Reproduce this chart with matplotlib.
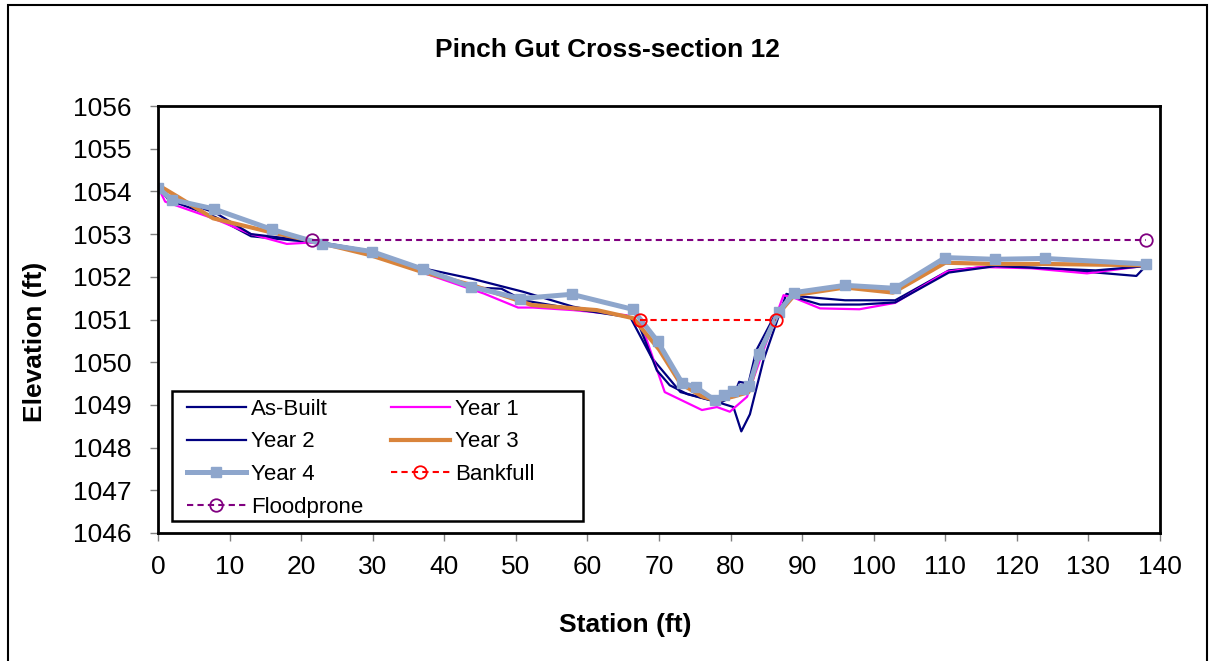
import matplotlib
matplotlib.use("Agg")
import matplotlib.pyplot as plt
from matplotlib.patches import Rectangle

plt.rcParams['font.family'] = ['Liberation Sans', 'DejaVu Sans']

# Survey data: station (ft) and elevation (ft)
asbuilt_x = [0, 1.5, 8, 13, 19, 23, 30, 37, 44, 51, 58, 66, 69, 73, 77.5, 80.4, 81.5, 82.7, 84.6, 87.8,
             89, 96, 103, 110.5, 117, 124, 136.7, 138]
asbuilt_y = [1054.1, 1053.8, 1053.4, 1052.95, 1052.85, 1052.8, 1052.55, 1052.2, 1051.95, 1051.65, 1051.3,
             1051.05, 1050.1, 1049.3, 1049.1, 1048.95, 1048.38, 1048.78, 1050.05, 1051.6,
             1051.55, 1051.45, 1051.45, 1052.15, 1052.25, 1052.2, 1052.02, 1052.25]

year1_x = [0, 1, 8, 13, 18, 21, 23, 30, 38, 45.5, 50.3, 52.4, 58, 65.5, 67.5, 70.8, 76, 78.1, 79.9,
           82.3, 84.1, 87.4, 89, 92.5, 98, 103, 110.2, 114.9, 122, 129.8, 133.4, 138]
year1_y = [1054.1, 1053.76, 1053.35, 1053.0, 1052.77, 1052.8, 1052.78, 1052.5, 1052.04, 1051.61,
           1051.28, 1051.28, 1051.22, 1051.1, 1050.9, 1049.3, 1048.88, 1048.95, 1048.84,
           1049.19, 1050.05, 1051.57, 1051.5, 1051.26, 1051.24, 1051.39, 1052.12, 1052.23,
           1052.2, 1052.08, 1052.16, 1052.26]

year2_x = [0, 2, 8, 13, 19, 23, 30, 37, 44, 48, 51, 58, 66, 67.3, 69.7, 71.5, 74, 78.5, 80.4, 81.2,
           82.5, 83.6, 86.5, 88.5, 92.5, 98, 103, 110.5, 117, 124, 131, 138]
year2_y = [1054.05, 1053.85, 1053.5, 1053.0, 1052.88, 1052.8, 1052.6, 1052.15, 1051.75, 1051.72,
           1051.45, 1051.25, 1051.05, 1050.83, 1049.81, 1049.46, 1049.25, 1049.05, 1049.2,
           1049.54, 1049.5, 1050.28, 1051.2, 1051.55, 1051.35, 1051.35, 1051.4, 1052.1,
           1052.25, 1052.2, 1052.15, 1052.25]

year3_x = [0, 2.8, 7.7, 15.6, 21.5, 29.6, 36.8, 44, 52.2, 61.3, 66.4, 70, 73, 76, 78, 80.5, 82.5,
           84, 86.5, 88.9, 96, 102.7, 110, 117, 124, 138]
year3_y = [1054.15, 1053.87, 1053.37, 1053.05, 1052.84, 1052.51, 1052.12, 1051.8, 1051.34,
           1051.22, 1051.03, 1050.3, 1049.5, 1049.2, 1049.1, 1049.2, 1049.3, 1050.2, 1051.1,
           1051.57, 1051.75, 1051.63, 1052.33, 1052.3, 1052.3, 1052.27]

year4_x = [0, 1.9, 7.8, 15.9, 22.9, 29.9, 37.0, 43.7, 50.6, 57.8, 66.3, 69.8, 73.2, 75.2, 77.8,
           79.1, 80.4, 81.8, 82.6, 84.0, 86.7, 88.9, 96.0, 103.0, 110.0, 116.9, 123.9, 138.0]
year4_y = [1054.08, 1053.81, 1053.59, 1053.11, 1052.77, 1052.59, 1052.18, 1051.77, 1051.49,
           1051.59, 1051.24, 1050.49, 1049.52, 1049.41, 1049.11, 1049.23, 1049.32, 1049.38,
           1049.44, 1050.20, 1051.18, 1051.63, 1051.80, 1051.73, 1052.45, 1052.41, 1052.43,
           1052.30]

bankfull_x = [67.4, 86.3]
bankfull_y = [1051.0, 1051.0]

floodprone_x = [21.5, 138.0]
floodprone_y = [1052.86, 1052.86]

x_ticks = list(range(0, 141, 10))
y_ticks = list(range(1046, 1057, 1))

W, H = 1215, 661
fig = plt.figure(figsize=(W / 100, H / 100), dpi=100)
ax_l, ax_r, ax_t, ax_b = 158, 1160, 106, 533
ax = fig.add_axes([ax_l / W, 1 - ax_b / H, (ax_r - ax_l) / W, (ax_b - ax_t) / H])

navy = '#000080'
h_ab, = ax.plot(asbuilt_x, asbuilt_y, color=navy, lw=1.6, label='As-Built')
h_y1, = ax.plot(year1_x, year1_y, color='#FF00FF', lw=1.6, label='Year 1')
h_y2, = ax.plot(year2_x, year2_y, color=navy, lw=1.6, label='Year 2')
h_y3, = ax.plot(year3_x, year3_y, color='#D9843B', lw=3.0, label='Year 3')
h_y4, = ax.plot(year4_x, year4_y, color='#8EA6CC', lw=3.6, marker='s', ms=7,
                label='Year 4')
h_bf, = ax.plot(bankfull_x, bankfull_y, color='#FF0000', lw=1.5, ls=(0, (3, 2)),
                marker='o', ms=9, mfc='none', mec='#FF0000', mew=1.3, label='Bankfull')
h_fp, = ax.plot(floodprone_x, floodprone_y, color='#800080', lw=1.5, ls=(0, (3, 2)),
                marker='o', ms=9, mfc='none', mec='#800080', mew=1.3, label='Floodprone')

ax.set_xlim(0, 140)
ax.set_ylim(1046, 1056)
ax.set_xticks(x_ticks)
ax.set_yticks(y_ticks)
ax.tick_params(axis='both', direction='out', length=6, width=1, color='#808080',
               labelsize=19)
ax.tick_params(axis='y', pad=13)
ax.tick_params(axis='x', pad=10)
for sp in ax.spines.values():
    sp.set_color('black')
    sp.set_linewidth(2)


def ax_frac(px, py):
    return (px - ax_l) / (ax_r - ax_l), (ax_b - py) / (ax_b - ax_t)


# legend entries laid out row-wise in two columns
handles = [h_ab, h_y2, h_y4, h_fp, h_y1, h_y3, h_bf]
leg = ax.legend(handles=handles, loc='upper left', bbox_to_anchor=ax_frac(178, 390),
                borderaxespad=0, ncol=2, fontsize=16, handlelength=2.65,
                handletextpad=0.25, columnspacing=1.23, labelspacing=0.52,
                borderpad=0.4, frameon=False)

# legend frame
fx0, fy0 = ax_frac(172, 520.7)
fx1, fy1 = ax_frac(582.5, 390.7)
ax.add_patch(Rectangle((fx0, fy0), fx1 - fx0, fy1 - fy0, transform=ax.transAxes,
                       fill=True, facecolor='white', edgecolor='black', lw=1.8,
                       zorder=4.9))
leg.set_zorder(5)

fig.text(607 / W, 1 - 50 / H, 'Pinch Gut Cross-section 12', ha='center', va='center',
         fontsize=19, fontweight='bold')
fig.text(625 / W, 1 - 625 / H, 'Station (ft)', ha='center', va='center',
         fontsize=19, fontweight='bold')
fig.text(35 / W, 1 - 342 / H, 'Elevation (ft)', ha='center', va='center',
         rotation=90, fontsize=19, fontweight='bold')

fig.patches.append(Rectangle((8 / W, -0.02), (1207 - 8) / W, 1 - 5 / H + 0.02,
                             transform=fig.transFigure, fill=False,
                             edgecolor='black', lw=1.5))

fig.savefig('out.png', dpi=100)
